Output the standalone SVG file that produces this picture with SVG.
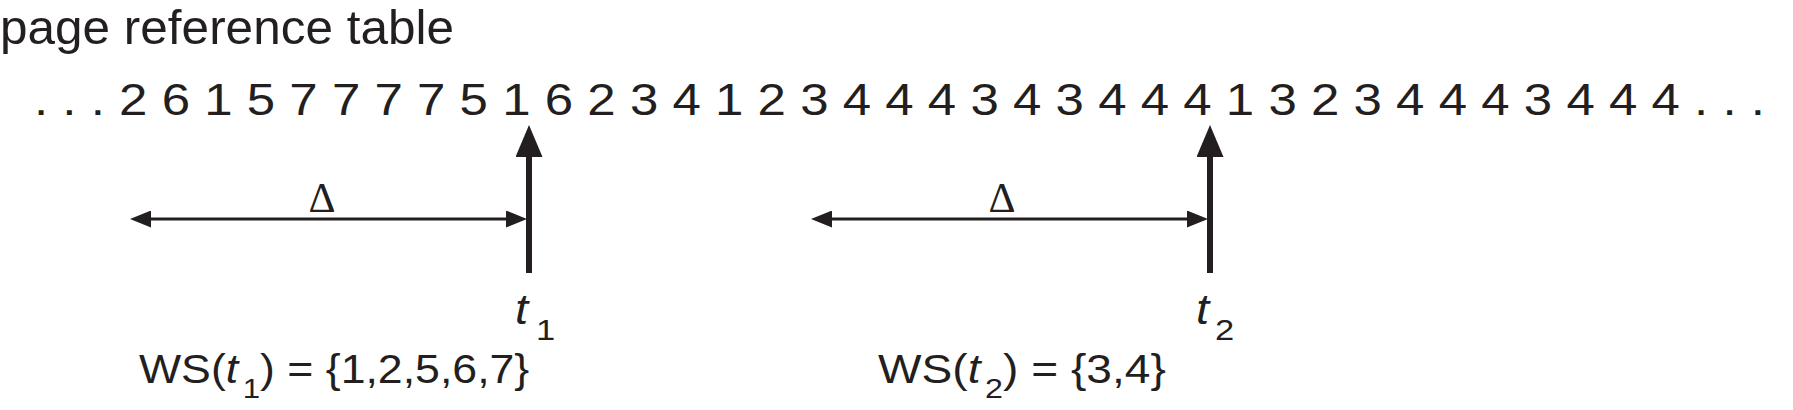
<svg xmlns="http://www.w3.org/2000/svg" width="1793" height="410" viewBox="0 0 1793 410">
  <style>
    .sans { font-family: "Liberation Sans", Arial, sans-serif; fill: #231f20; }
    .serif { font-family: "Liberation Serif", "Times New Roman", serif; fill: #231f20; }
    .it { font-style: italic; }
    .span { stroke: #231f20; stroke-width: 3; fill: none; }
    .mark { stroke: #231f20; stroke-width: 6; fill: none; }
  </style>
  <defs>
    <marker id="hhead" viewBox="0 0 21 17" refX="11" refY="8.5" markerWidth="21" markerHeight="17" markerUnits="userSpaceOnUse" orient="auto-start-reverse">
      <path d="M0,0 L21,8.5 L0,17 z" fill="#231f20"/>
    </marker>
    <marker id="vhead" viewBox="0 0 32 27" refX="12" refY="13.5" markerWidth="32" markerHeight="27" markerUnits="userSpaceOnUse" orient="auto">
      <path d="M0,0 L32,13.5 L0,27 z" fill="#231f20"/>
    </marker>
  </defs>
  <rect width="1793" height="410" fill="#ffffff"/>

  <g id="title">
    <text class="sans" x="0" y="44" font-size="49" textLength="454" lengthAdjust="spacingAndGlyphs">page reference table</text>
  </g>

  <g id="sequence">
    <text class="sans" x="34" y="115" font-size="45" textLength="1731" lengthAdjust="spacingAndGlyphs">. . . 2 6 1 5 7 7 7 7 5 1 6 2 3 4 1 2 3 4 4 4 3 4 3 4 4 4 1 3 2 3 4 4 4 3 4 4 4 . . .</text>
  </g>

  <g id="connectors">
    <path class="mark" d="M529,273 L529,145" marker-end="url(#vhead)"/>
    <path class="span" d="M140,219 L517,219" marker-start="url(#hhead)" marker-end="url(#hhead)"/>
    <path class="mark" d="M1210,273 L1210,145" marker-end="url(#vhead)"/>
    <path class="span" d="M821,219 L1198,219" marker-start="url(#hhead)" marker-end="url(#hhead)"/>
  </g>

  <g id="window1">
    <text class="serif" x="322" y="212" font-size="42" text-anchor="middle">Δ</text>
    <text class="sans" transform="matrix(1.1 0 0 1 515 324)" font-size="43"><tspan class="it">t</tspan></text>
    <text class="sans" transform="matrix(1.15 0 0 1 536 340)" font-size="30">1</text>
    <text class="sans" transform="matrix(1.116 0 0 1 139 383)" font-size="40">WS(<tspan class="it">t</tspan><tspan dx="4" dy="15" font-size="28">1</tspan><tspan dy="-15">) = {1,2,5,6,7}</tspan></text>
  </g>

  <g id="window2">
    <text class="serif" x="1002" y="212" font-size="42" text-anchor="middle">Δ</text>
    <text class="sans" transform="matrix(1.1 0 0 1 1196 324)" font-size="43"><tspan class="it">t</tspan></text>
    <text class="sans" transform="matrix(1.15 0 0 1 1215 340)" font-size="30">2</text>
    <text class="sans" transform="matrix(1.153 0 0 1 878 383)" font-size="40">WS(<tspan class="it">t</tspan><tspan dx="4" dy="15" font-size="28">2</tspan><tspan dy="-15">) = {3,4}</tspan></text>
  </g>
</svg>
